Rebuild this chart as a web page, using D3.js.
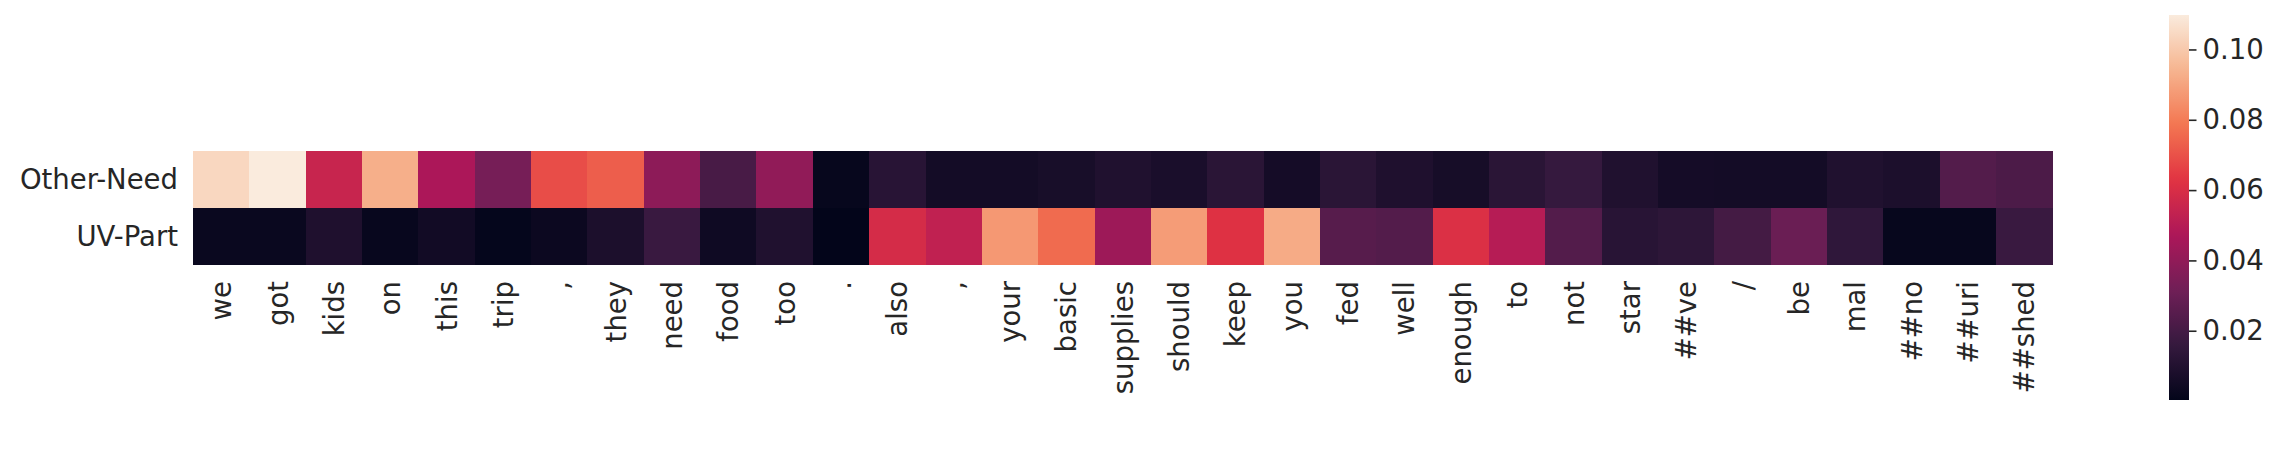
<!DOCTYPE html>
<html><head><meta charset="utf-8">
<script src="https://cdn.jsdelivr.net/npm/d3@7"></script>
<style>html,body{margin:0;padding:0;background:#fff;}svg{display:block;}</style>
</head><body>
<svg id="chart" width="2280" height="455"></svg>
<script>
const tokens = ["we","got","kids","on","this","trip",",","they","need","food","too",".","also",",","your","basic","supplies","should","keep","you","fed","well","enough","to","not","star","##ve","/","be","mal","##no","##uri","##shed"];
const rows = ["Other-Need","UV-Part"];
const otherNeed = [0.104,0.1098,0.055,0.093,0.047,0.033,0.069,0.073,0.039,0.021,0.040,0.0015,0.012,0.0055,0.0055,0.007,0.0095,0.0075,0.0125,0.006,0.0125,0.009,0.0065,0.0125,0.016,0.0095,0.006,0.0055,0.0055,0.0095,0.008,0.024,0.022];
const uvPart = [0.0025,0.0025,0.009,0.002,0.005,0.001,0.003,0.008,0.017,0.004,0.0095,0.0003,0.059,0.053,0.087,0.076,0.043,0.088,0.062,0.092,0.025,0.024,0.061,0.050,0.024,0.012,0.0135,0.020,0.030,0.014,0.0015,0.0015,0.017];
const cbarTicks = [0.02,0.04,0.06,0.08,0.10];

// seaborn "rocket" colormap approximation
const rocketStops = ["#03051a","#35193e","#701f57","#ad1759","#e13342","#f37651","#f6b48f","#faebdd"];
const rocket = d3.scaleLinear().domain(d3.range(rocketStops.length).map(i => i/(rocketStops.length-1))).range(rocketStops).interpolate(d3.interpolateRgb);

const series = [otherNeed, uvPart];
const cells = [];
series.forEach((vals, r) => vals.forEach((v, c) => cells.push({r, c, v})));
const allVals = cells.map(d => d.v);
const vmin = d3.min(allVals), vmax = d3.max(allVals);
const color = d3.scaleSequential(rocket).domain([vmin, vmax]);

const svg = d3.select("#chart");
const hmLeft = 193, hmRight = 2052.5, hmTop = 151, hmBottom = 264;
const x = d3.scaleBand().domain(d3.range(tokens.length)).range([hmLeft, hmRight]);
const y = d3.scaleBand().domain(d3.range(rows.length)).range([hmTop, hmBottom]);

svg.append("g").selectAll("rect").data(cells).join("rect")
  .attr("x", d => x(d.c)).attr("y", d => y(d.r))
  .attr("width", x.bandwidth()+0.5).attr("height", y.bandwidth()+0.5)
  .attr("fill", d => color(d.v)).attr("shape-rendering","crispEdges");

const font = "DejaVu Sans";
const fs = 27.5;
const tc = "#262626";

// row labels
svg.append("g").selectAll("text").data(rows).join("text")
  .attr("x", 178).attr("y", (d,i) => y(i) + y.bandwidth()/2)
  .attr("text-anchor","end").attr("dominant-baseline","central")
  .attr("font-family", font).attr("font-size", fs).attr("fill", tc)
  .text(d => d);

// column labels (rotated)
svg.append("g").selectAll("text").data(tokens).join("text")
  .attr("transform", (d,i) => `translate(${x(i)+x.bandwidth()/2},281) rotate(-90)`)
  .attr("text-anchor","end").attr("dominant-baseline","central")
  .attr("font-family", font).attr("font-size", fs).attr("fill", tc)
  .text(d => d);

// colorbar
const cbX = 2169, cbW = 20, cbTop = 15, cbBot = 400;
const defs = svg.append("defs");
const grad = defs.append("linearGradient").attr("id","cbgrad").attr("x1",0).attr("x2",0).attr("y1",1).attr("y2",0);
d3.range(0, 1.0001, 0.02).forEach(t => grad.append("stop").attr("offset", t).attr("stop-color", rocket(t)));
svg.append("rect").attr("x", cbX).attr("y", cbTop).attr("width", cbW).attr("height", cbBot-cbTop).attr("fill","url(#cbgrad)");
const cy = d3.scaleLinear().domain([vmin, vmax]).range([cbBot, cbTop]);
const cbAxis = d3.axisRight(cy).tickValues(cbarTicks).tickFormat(d3.format(".2f")).tickSize(7.5).tickPadding(6);
const ag = svg.append("g").attr("transform", `translate(${cbX+cbW},0)`).call(cbAxis);
ag.select(".domain").remove();
ag.selectAll(".tick line").attr("stroke", tc).attr("stroke-width", 1.6);
ag.selectAll(".tick text").attr("font-family", font).attr("font-size", fs).attr("fill", tc);
</script>
</body></html>
